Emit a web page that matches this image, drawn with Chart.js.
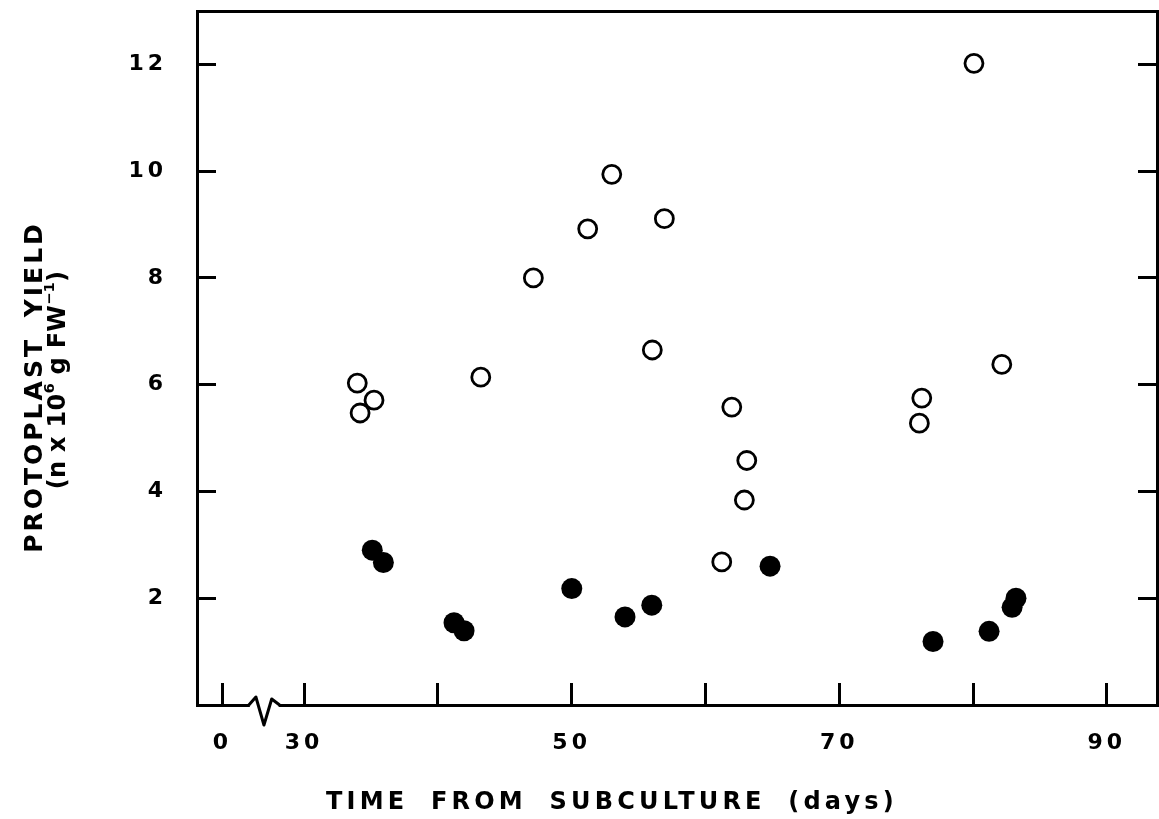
<!DOCTYPE html>
<html>
<head>
<meta charset="utf-8">
<title>Protoplast yield vs. time from subculture</title>
<script src="https://cdn.jsdelivr.net/npm/chart.js@4.4.1/dist/chart.umd.min.js"></script>
<style>
  html, body { margin: 0; padding: 0; background: #fff; }
  #wrap { position: relative; width: 1159px; height: 819px; overflow: hidden; }
  #yieldChart { display: block; }
  .axis-title {
    position: absolute;
    font-family: 'DejaVu Sans', sans-serif;
    font-weight: bold;
    color: #000;
    white-space: nowrap;
    line-height: 1;
    transform: translate(-50%, -50%);
  }
  .axis-title.rot { transform: translate(-50%, -50%) rotate(-90deg); }
  .axis-title sup { font-size: 62%; position: relative; top: -0.75em; vertical-align: baseline; letter-spacing: 0; }
</style>
</head>
<body>
<div id="wrap">
  <canvas id="yieldChart" width="1159" height="819"></canvas>
  <div class="axis-title" style="left:612px; top:801px; font-size:24px; letter-spacing:4.2px; word-spacing:10px;">TIME FROM SUBCULTURE (days)</div>
  <div class="axis-title rot" style="left:33px; top:387px; font-size:25px; letter-spacing:3px; word-spacing:8px;">PROTOPLAST YIELD</div>
  <div class="axis-title rot" style="left:57px; top:380px; font-size:24px; letter-spacing:0.3px;">(n x 10<sup>6</sup> g FW<sup>&minus;1</sup>)</div>
</div>

<script>
// Open circles
const openDays  = [33.98, 34.19, 35.23, 43.21, 47.14, 51.20, 53.00, 56.93, 56.03, 61.97, 63.09, 62.91, 61.22, 76.17, 75.99, 80.07, 82.15];
const openYield = [6.03, 5.47, 5.71, 6.14, 8.00, 8.92, 9.94, 9.11, 6.65, 5.58, 4.58, 3.84, 2.68, 5.75, 5.28, 12.02, 6.38];

// Filled circles
const filledDays  = [35.10, 35.93, 41.21, 41.96, 50.01, 53.99, 55.99, 64.83, 77.01, 81.20, 82.92, 83.21];
const filledYield = [2.90, 2.67, 1.54, 1.39, 2.18, 1.65, 1.87, 2.60, 1.19, 1.38, 1.83, 2.00];

// The x axis is broken: day 0 sits just left of the break, then it resumes at 30
const ZERO_POS = 23.9;
const BREAK_FROM = 25.95;
const BREAK_TO = 28.1;

const xTickValues = [ZERO_POS, 30, 40, 50, 60, 70, 80, 90];
const xTickLabels = ['0', '30', '', '50', '', '70', '', '90'];
const yTickValues = [2, 4, 6, 8, 10, 12];

const X_MIN = 22, X_MAX = 93.75;
const Y_MIN = 0, Y_MAX = 13;

const toPoints = (xs, ys) => xs.map((d, i) => ({ x: d, y: ys[i] }));

const tickFont = { family: "'DejaVu Sans', sans-serif", weight: 'bold', size: 22 };
const ink = '#000';

// spaced-out tick digits and the zigzag break on the bottom axis
const axisBreak = {
  id: 'axisBreak',
  beforeDraw(chart) {
    chart.ctx.letterSpacing = '4px';
  },
  afterDraw(chart) {
    const { ctx } = chart;
    const x = chart.scales.x;
    const x0 = x.getPixelForValue(BREAK_FROM);
    const x1 = x.getPixelForValue(BREAK_TO);
    const yb = x.top;
    const w = x1 - x0;
    ctx.save();
    ctx.fillStyle = '#fff';
    ctx.fillRect(x0, yb - 3, w, 6);
    ctx.strokeStyle = ink;
    ctx.lineWidth = 3;
    ctx.lineJoin = 'round';
    ctx.beginPath();
    ctx.moveTo(x0 - 1, yb);
    ctx.lineTo(x0 + w * 0.21, yb - 8);
    ctx.lineTo(x0 + w * 0.49, yb + 20);
    ctx.lineTo(x0 + w * 0.76, yb - 6);
    ctx.lineTo(x1 + 1, yb);
    ctx.stroke();
    ctx.restore();
  }
};

const frameBorder = { color: ink, width: 3 };
const innerTicks = len => ({ drawOnChartArea: false, color: ink, lineWidth: 3, tickLength: -len });

// fixed box sizes so the plot frame lands where it should; labels may overhang
const fixBox = (dim, size) => s => {
  s[dim] = size;
  s.paddingTop = s.paddingBottom = s.paddingLeft = s.paddingRight = 0;
};

new Chart(document.getElementById('yieldChart'), {
  type: 'scatter',
  data: {
    datasets: [
      {
        label: 'open',
        data: toPoints(openDays, openYield),
        pointStyle: 'circle',
        pointRadius: 9,
        borderWidth: 2.8,
        borderColor: ink,
        backgroundColor: 'rgba(0,0,0,0)'
      },
      {
        label: 'filled',
        data: toPoints(filledDays, filledYield),
        pointStyle: 'circle',
        pointRadius: 10.5,
        borderWidth: 0,
        borderColor: ink,
        backgroundColor: ink
      }
    ]
  },
  options: {
    responsive: false,
    animation: false,
    devicePixelRatio: 1,
    layout: { padding: 0, autoPadding: false },
    plugins: { legend: { display: false }, tooltip: { enabled: false } },
    scales: {
      x: {
        type: 'linear',
        position: 'bottom',
        min: X_MIN,
        max: X_MAX,
        afterBuildTicks: s => { s.ticks = xTickValues.map(v => ({ value: v })); },
        afterFit: fixBox('height', 114),
        grid: innerTicks(22),
        border: frameBorder,
        ticks: {
          color: ink,
          font: tickFont,
          padding: 47,
          autoSkip: false,
          maxRotation: 0,
          callback: (v, i) => xTickLabels[i]
        }
      },
      x2: {
        type: 'linear',
        position: 'top',
        min: X_MIN,
        max: X_MAX,
        afterFit: fixBox('height', 11),
        grid: { display: false },
        border: frameBorder,
        ticks: { display: false }
      },
      y: {
        type: 'linear',
        position: 'left',
        min: Y_MIN,
        max: Y_MAX,
        afterBuildTicks: s => { s.ticks = yTickValues.map(v => ({ value: v })); },
        afterFit: fixBox('width', 197),
        grid: innerTicks(19),
        border: frameBorder,
        ticks: { color: ink, font: tickFont, padding: 49 }
      },
      y2: {
        type: 'linear',
        position: 'right',
        min: Y_MIN,
        max: Y_MAX,
        afterBuildTicks: s => { s.ticks = yTickValues.map(v => ({ value: v })); },
        afterFit: fixBox('width', 2),
        grid: innerTicks(19),
        border: frameBorder,
        ticks: { display: false }
      }
    }
  },
  plugins: [axisBreak]
});
</script>
</body>
</html>
